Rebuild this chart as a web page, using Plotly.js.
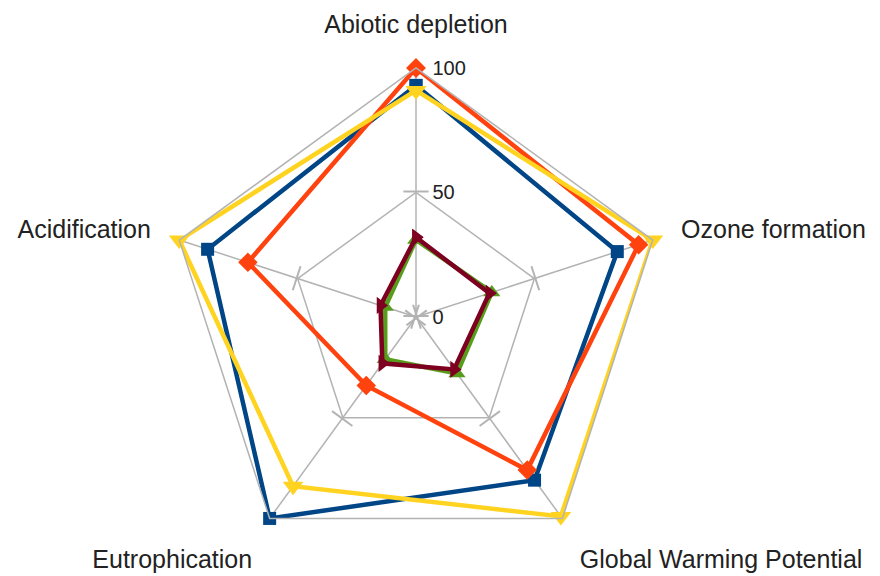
<!DOCTYPE html>
<html>
<head>
<meta charset="utf-8">
<script src="https://cdn.plot.ly/plotly-3.0.1.min.js"></script>
<style>html,body{margin:0;padding:0;background:#fff;}#chart{width:880px;height:576px;}</style>
</head>
<body>
<div id="chart"></div>
<script>
const categories = ["Abiotic depletion", "Ozone formation", "Global Warming Potential", "Eutrophication", "Acidification"];
const seriesBlue   = [93, 85, 81, 100, 88];
const seriesOrange = [100, 94, 76, 34, 71];
const seriesYellow = [91, 100, 99, 84, 100];
const seriesGreen  = [31, 32, 28, 21, 13];
const seriesRed    = [32, 31, 26, 23, 15];
const radialTicks  = [0, 50, 100];

function closed(a){ return a.concat([a[0]]); }

const defs = [
  {v: seriesBlue,   c: "#004586", s: "square",        sz: 13},
  {v: seriesOrange, c: "#ff420e", s: "diamond",       sz: 15},
  {v: seriesYellow, c: "#ffd320", s: "triangle-down", sz: 18},
  {v: seriesGreen,  c: "#579d1c", s: "triangle-up",   sz: 15},
  {v: seriesRed,    c: "#7e0021", s: "triangle-right",sz: 15}
];

const traces = [];
// tick marks on spokes (drawn at the gridline values; tiny offset keeps the centre ticks visible)
const tr = [], tt = [], ta = [];
categories.forEach((c, i) => {
  radialTicks.slice(0, 2).forEach(r => { tr.push(r + 0.4); tt.push(c); ta.push(i * 72); });
});
traces.push({
  type: "scatterpolar", r: tr, theta: tt, mode: "markers", hoverinfo: "skip",
  cliponaxis: false,
  marker: {symbol: "line-ew", size: 18, angle: ta, color: "#b3b3b3", line: {color: "#b3b3b3", width: 2}},
  showlegend: false
});
defs.forEach(d => {
  traces.push({
    type: "scatterpolar",
    r: closed(d.v), theta: closed(categories),
    mode: "lines+markers",
    line: {color: d.c, width: 4.5},
    marker: {symbol: d.s, size: d.sz, color: d.c},
    showlegend: false
  });
});

const cx = 416, cy = 317, R = 249, W = 880, H = 576;
const layout = {
  width: W, height: H,
  margin: {l: 0, r: 0, t: 0, b: 0},
  paper_bgcolor: "#fff",
  font: {family: "Liberation Sans, Arial, sans-serif", size: 25, color: "#222"},
  showlegend: false,
  polar: {
    domain: {x: [(cx - R) / W, (cx + R) / W], y: [(H - cy - R) / H, (H - cy + R) / H]},
    bgcolor: "rgba(0,0,0,0)",
    gridshape: "linear",
    radialaxis: {
      range: [0, 100], tickvals: radialTicks, ticktext: radialTicks.map(String),
      angle: 90, tickangle: 90, side: "clockwise",
      showline: false, ticks: "outside", ticklen: 12, tickcolor: "rgba(0,0,0,0)",
      gridcolor: "#b3b3b3", gridwidth: 1.5,
      tickfont: {size: 20, color: "#222"}
    },
    angularaxis: {
      direction: "clockwise", rotation: 90,
      gridcolor: "#b3b3b3", gridwidth: 1.5,
      linecolor: "#b3b3b3", linewidth: 1.5, showline: true,
      ticks: "outside", ticklen: 24, tickcolor: "rgba(0,0,0,0)",
      tickfont: {size: 25, color: "#222"}
    }
  }
};
Plotly.newPlot("chart", traces, layout, {displayModeBar: false, staticPlot: true});
</script>
</body>
</html>
